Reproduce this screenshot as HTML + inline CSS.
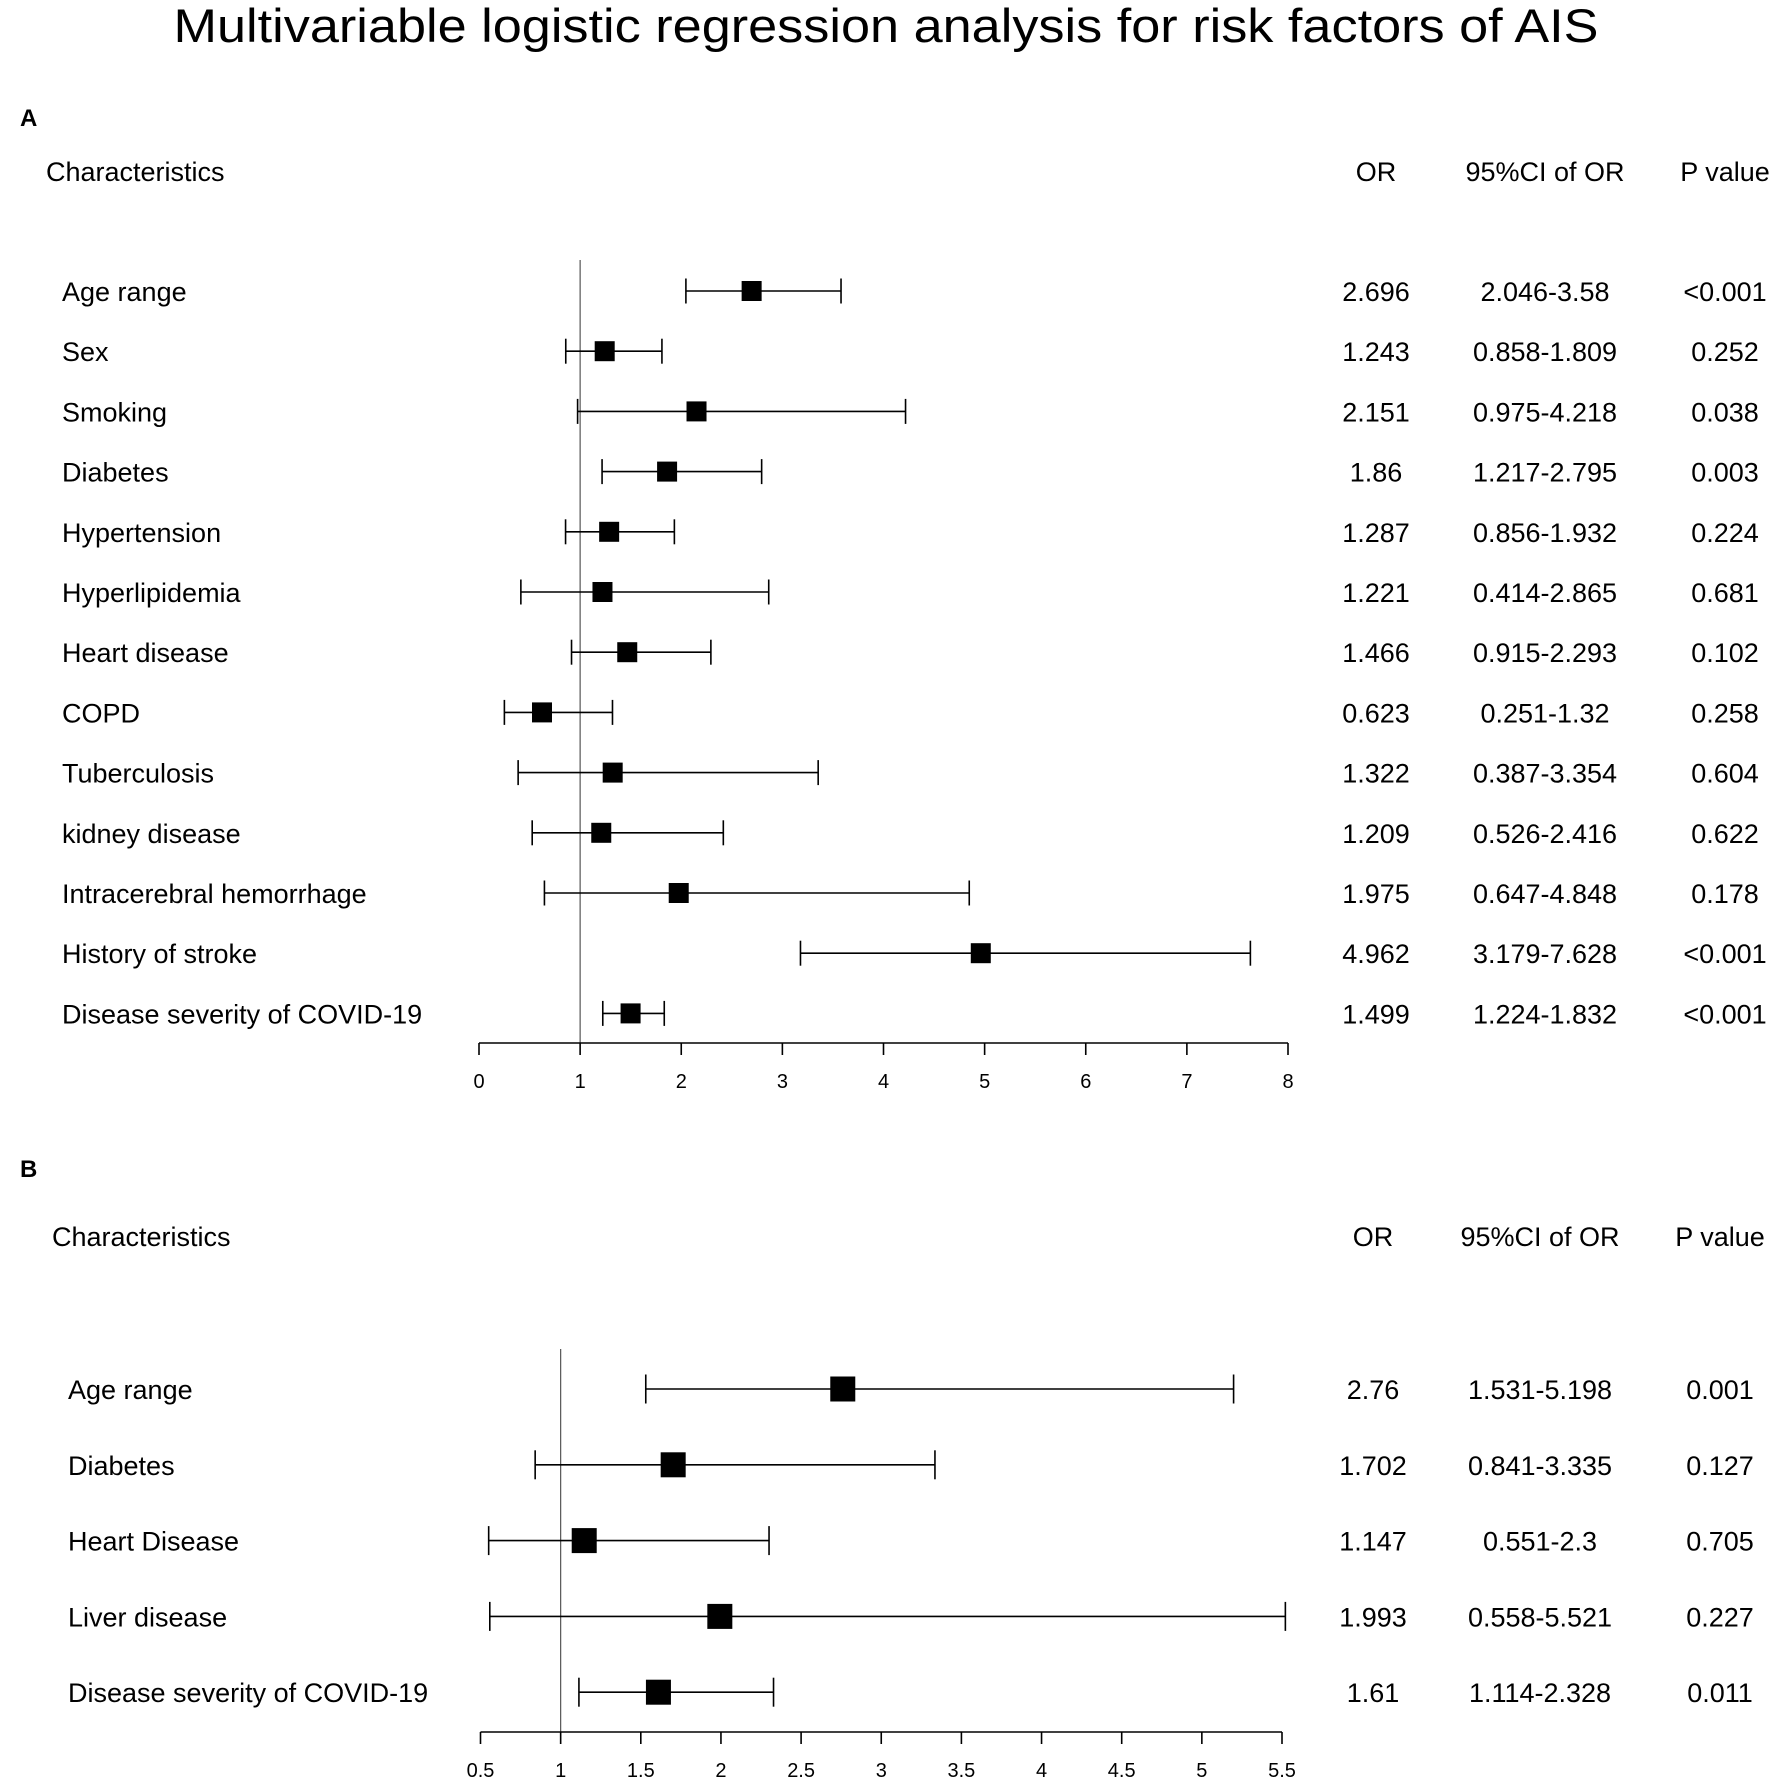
<!DOCTYPE html>
<html><head><meta charset="utf-8"><style>
html,body{margin:0;padding:0;background:#fff}
svg{display:block;font-family:"Liberation Sans",Arial,sans-serif}
</style></head><body>
<svg id="chart" width="1772" height="1781" viewBox="0 0 1772 1781" xmlns="http://www.w3.org/2000/svg">
<text x="886" y="42" text-anchor="middle" font-size="47" textLength="1425" lengthAdjust="spacingAndGlyphs">Multivariable logistic regression analysis for risk factors of AIS</text>
<g id="pa"></g>
<g id="pb"></g>
</svg>
<script>
const catsA=["Age range","Sex","Smoking","Diabetes","Hypertension","Hyperlipidemia","Heart disease","COPD","Tuberculosis","kidney disease","Intracerebral hemorrhage","History of stroke","Disease severity of COVID-19"];
const orA=[2.696,1.243,2.151,1.86,1.287,1.221,1.466,0.623,1.322,1.209,1.975,4.962,1.499];
const loA=[2.046,0.858,0.975,1.217,0.856,0.414,0.915,0.251,0.387,0.526,0.647,3.179,1.224];
const hiA=[3.58,1.809,4.218,2.795,1.932,2.865,2.293,1.32,3.354,2.416,4.848,7.628,1.832];
const pA=["<0.001","0.252","0.038","0.003","0.224","0.681","0.102","0.258","0.604","0.622","0.178","<0.001","<0.001"];
const ticksA=[0,1,2,3,4,5,6,7,8];
const tickLabelsA=["0","1","2","3","4","5","6","7","8"];
const orLabelsA=["2.696","1.243","2.151","1.86","1.287","1.221","1.466","0.623","1.322","1.209","1.975","4.962","1.499"];

const catsB=["Age range","Diabetes","Heart Disease","Liver disease","Disease severity of COVID-19"];
const orB=[2.76,1.702,1.147,1.993,1.61];
const loB=[1.531,0.841,0.551,0.558,1.114];
const hiB=[5.198,3.335,2.3,5.521,2.328];
const pB=["0.001","0.127","0.705","0.227","0.011"];
const ticksB=[0.5,1,1.5,2,2.5,3,3.5,4,4.5,5,5.5];
const tickLabelsB=["0.5","1","1.5","2","2.5","3","3.5","4","4.5","5","5.5"];
const orLabelsB=["2.76","1.702","1.147","1.993","1.61"];

const NS="http://www.w3.org/2000/svg";
function mk(parent,tag,attrs,text){const e=document.createElementNS(NS,tag);for(const k in attrs)e.setAttribute(k,attrs[k]);if(text!==undefined)e.textContent=text;parent.appendChild(e);return e;}

function panel(g,cfg){
  const x=v=>cfg.x0+(v-cfg.d0)/(cfg.d1-cfg.d0)*(cfg.x1-cfg.x0);
  const y=i=>cfg.rowY0+i*cfg.step;
  let t=mk(g,'text',{x:20,y:cfg.letterY,'font-size':24,'font-weight':'bold'},cfg.letter);
  
  
  const heads=[["Characteristics",cfg.headX,'start'],["OR",cfg.orX,'middle'],["95%CI of OR",cfg.ciX,'middle'],["P value",cfg.pX,'middle']];
  heads.forEach(h=>{const e=mk(g,'text',{x:h[1],y:cfg.headY+10,'font-size':27,'text-anchor':h[2]},h[0]);
    
    });
  const ref=mk(g,'line',{x1:x(1),x2:x(1),y1:cfg.refTop,y2:cfg.axisY,stroke:'#555','stroke-width':1.2});
  
  
  cfg.cats.forEach((c,i)=>{
    const yy=y(i);
    const rg=mk(g,'g',{});
    
    
    mk(rg,'text',{x:cfg.labX,y:yy+10,'font-size':27},c);
    mk(rg,'text',{x:cfg.orX,y:yy+10,'font-size':27,'text-anchor':'middle'},cfg.orL[i]);
    mk(rg,'text',{x:cfg.ciX,y:yy+10,'font-size':27,'text-anchor':'middle'},cfg.lo[i]+"-"+cfg.hi[i]);
    mk(rg,'text',{x:cfg.pX,y:yy+10,'font-size':27,'text-anchor':'middle'},cfg.p[i]);
    const ci=mk(rg,'g',{stroke:'#000','stroke-width':1.6});
    
    
    mk(ci,'line',{x1:x(cfg.lo[i]),x2:x(cfg.hi[i]),y1:yy,y2:yy});
    mk(ci,'line',{x1:x(cfg.lo[i]),x2:x(cfg.lo[i]),y1:yy-cfg.cap/2,y2:yy+cfg.cap/2});
    mk(ci,'line',{x1:x(cfg.hi[i]),x2:x(cfg.hi[i]),y1:yy-cfg.cap/2,y2:yy+cfg.cap/2});
    const sq=mk(rg,'rect',{x:x(cfg.or[i])-cfg.sq/2,y:yy-cfg.sq/2,width:cfg.sq,height:cfg.sq,fill:'#000'});
    
    
  });
  const ax=mk(g,'g',{stroke:'#000','stroke-width':1.6});
  
  
  mk(ax,'line',{x1:x(cfg.ticks[0]),x2:x(cfg.ticks[cfg.ticks.length-1]),y1:cfg.axisY,y2:cfg.axisY});
  cfg.ticks.forEach((tv,i)=>{
    mk(ax,'line',{x1:x(tv),x2:x(tv),y1:cfg.axisY,y2:cfg.axisY+12});
    const tl=mk(g,'text',{x:x(tv),y:cfg.axisY+45,'font-size':20,'text-anchor':'middle'},cfg.tl[i]);
    
    
  });
}
panel(document.getElementById('pa'),{letter:"A",letterY:126,headY:171,headX:46,orX:1376,ciX:1545,pX:1725,
  labX:62,rowY0:291,step:60.2,refTop:260,axisY:1043,x0:479,x1:1288,d0:0,d1:8,sq:20,cap:25,
  cats:catsA,or:orA,lo:loA,hi:hiA,p:pA,orL:orLabelsA,ticks:ticksA,tl:tickLabelsA});
panel(document.getElementById('pb'),{letter:"B",letterY:1177,headY:1236,headX:52,orX:1373,ciX:1540,pX:1720,
  labX:68,rowY0:1389,step:75.8,refTop:1349,axisY:1732,x0:480.5,x1:1282,d0:0.5,d1:5.5,sq:25,cap:29,
  cats:catsB,or:orB,lo:loB,hi:hiB,p:pB,orL:orLabelsB,ticks:ticksB,tl:tickLabelsB});
</script>
</body></html>
